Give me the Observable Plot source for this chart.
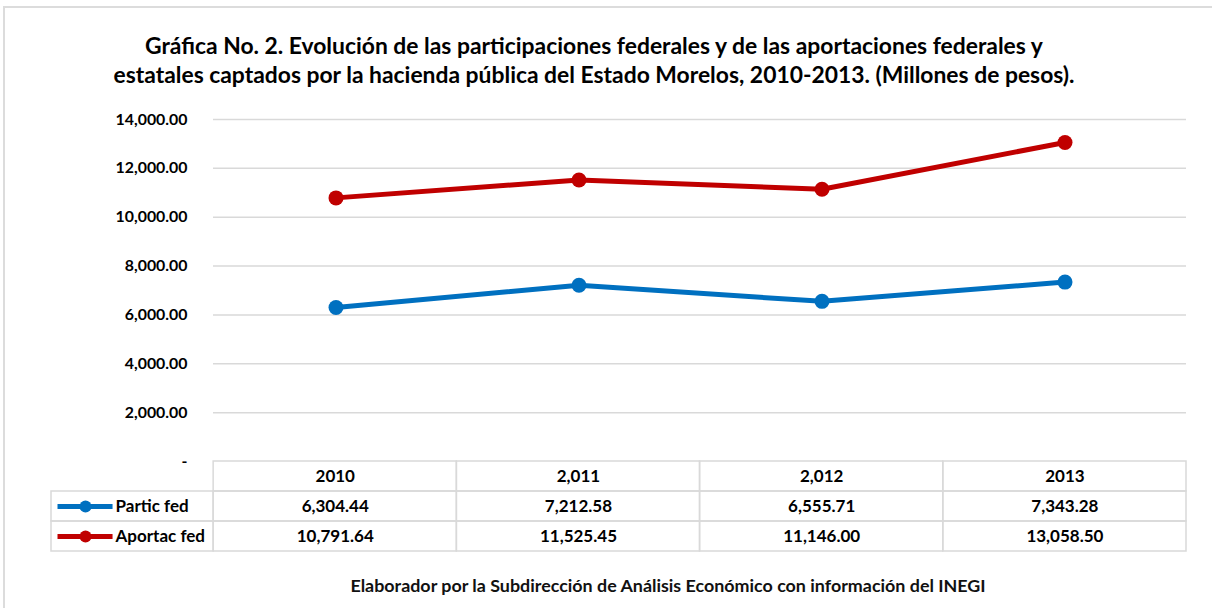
<!DOCTYPE html>
<html>
<head>
<meta charset="utf-8">
<script src="https://cdn.jsdelivr.net/npm/d3@7"></script>
<script src="https://cdn.jsdelivr.net/npm/@observablehq/plot@0.6"></script>
<style>
  html, body { margin: 0; padding: 0; background: #fff; overflow: hidden; }
  #root { position: relative; width: 1212px; height: 608px; overflow: hidden; background: #fff; }
  #frame { position: absolute; left: 3px; top: 6px; width: 1240px; height: 640px;
           border-top: 2px solid #dcdcdc; border-left: 2px solid #dcdcdc; }
  .txt { position: absolute; font-family: Lato, "Open Sans", sans-serif; font-weight: bold; color: #000; white-space: nowrap; }
  #title { left: 0; width: 1188px; top: 31px; text-align: center; line-height: 29px; }
  #caption { left: 0; width: 1336px; top: 574px; text-align: center; color: #111; }
  #chart { position: absolute; left: 0; top: 100px; }
  #table { position: absolute; left: 0; top: 459px; }
</style>
</head>
<body>
<div id="root">
  <div id="frame"></div>
  <div id="title" class="txt"></div>
  <div id="chart"></div>
  <div id="table"></div>
  <div id="caption" class="txt"></div>
</div>
<script>
// ---- data ----
const years = ["2010", "2011", "2012", "2013"];
const yearLabels = ["2010", "2,011", "2,012", "2013"];
const series = ["Partic fed", "Aportac fed"];
const particFed = [6304.44, 7212.58, 6555.71, 7343.28];
const aportacFed = [10791.64, 11525.45, 11146.00, 13058.50];
const colors = ["#0070C0", "#C00000"];
const yTicks = [0, 2000, 4000, 6000, 8000, 10000, 12000, 14000];
const titleLines = [
  "Gráfica No. 2. Evolución de las participaciones federales y de las aportaciones federales y",
  "estatales captados por la hacienda pública del Estado Morelos, 2010-2013. (Millones de pesos)."
];
const captionText = "Elaborador por la Subdirección de Análisis Económico con información del INEGI";

// ---- helpers ----
const fmt = d3.format(",.2f");
const ctx = document.createElement("canvas").getContext("2d");
function fitSize(text, target, weight = "bold", family = "Lato") {
  ctx.font = `${weight} 100px ${family}`;
  return 100 * target / ctx.measureText(text).width;
}

// ---- title & caption ----
const titleEl = document.getElementById("title");
titleEl.style.fontSize = fitSize(titleLines[0], 900).toFixed(2) + "px";
titleEl.innerHTML = titleLines.map(t => `<div>${t}</div>`).join("");
const capEl = document.getElementById("caption");
capEl.style.fontSize = fitSize(captionText, 637).toFixed(2) + "px";
capEl.textContent = captionText;

// ---- main chart ----
const values = [particFed, aportacFed];
const data = years.flatMap((yr, i) => series.map((s, k) => ({year: yr, series: s, value: values[k][i]})));

const tickFont = fitSize("14,000.00", 72).toFixed(2) + "px";
const tableFont = (fitSize("14,000.00", 72) * 1.07).toFixed(2) + "px";

const chart = Plot.plot({
  width: 1212,
  height: 370,
  marginLeft: 213,
  marginRight: 26,
  marginTop: 19,
  marginBottom: 9,
  style: {fontFamily: "Lato, sans-serif", fontSize: tickFont, fontWeight: "bold", color: "#000", background: "transparent"},
  x: {type: "band", domain: years, padding: 0, axis: null},
  y: {domain: [0, 14000], ticks: yTicks, tickFormat: d => d === 0 ? "-" : fmt(d), tickSize: 0, tickPadding: 26, label: null},
  color: {domain: series, range: colors},
  marks: [
    Plot.ruleY(yTicks.filter(d => d > 0), {stroke: "#D9D9D9", strokeWidth: 1.5, strokeOpacity: 1}),
    Plot.line(data, {x: "year", y: "value", z: "series", stroke: "series", strokeWidth: 5}),
    Plot.dot(data, {x: "year", y: "value", fill: "series", r: 7.5})
  ]
});
document.getElementById("chart").appendChild(chart);

// ---- data table (drawn with Plot) ----
const labelStart = -(213 - 51) / 243;
const cells = [
  ...years.map((yr, i) => ({row: "head", x1: i, x2: i + 1})),
  ...series.map(s => ({row: s, x1: labelStart, x2: 0})),
  ...series.flatMap(s => years.map((yr, i) => ({row: s, x1: i, x2: i + 1})))
];
const headTexts = years.map((yr, i) => ({row: "head", x: i + 0.5, label: yearLabels[i]}));
const valueTexts = series.flatMap((s, k) => years.map((yr, i) => ({row: s, x: i + 0.5, label: fmt(values[k][i])})));
const legendRows = series.map(s => ({row: s}));

const table = Plot.plot({
  width: 1212,
  height: 95,
  margin: 0,
  style: {fontFamily: "Lato, sans-serif", fontSize: tableFont, fontWeight: "bold", color: "#000", background: "transparent"},
  x: {type: "linear", domain: [labelStart, 4], range: [51, 1186], axis: null},
  y: {type: "band", domain: ["head", ...series], range: [1, 93], padding: 0, axis: null},
  color: {domain: series, range: colors},
  marks: [
    Plot.barX(cells, {x1: "x1", x2: "x2", y: "row", fill: "none", stroke: "#D9D9D9", strokeWidth: 1.5}),
    Plot.text(headTexts, {x: "x", y: "row", text: "label"}),
    Plot.text(valueTexts, {x: "x", y: "row", text: "label"}),
    Plot.link(legendRows, {x1: () => labelStart + 6 / 243, x2: () => labelStart + 61 / 243, y1: "row", y2: "row", stroke: "row", strokeWidth: 5}),
    Plot.dot(legendRows, {x: () => labelStart + 34 / 243, y: "row", fill: "row", r: 6}),
    Plot.text(legendRows, {x: () => labelStart + 64 / 243, y: "row", text: "row", textAnchor: "start"})
  ]
});
document.getElementById("table").appendChild(table);
</script>
</body>
</html>
